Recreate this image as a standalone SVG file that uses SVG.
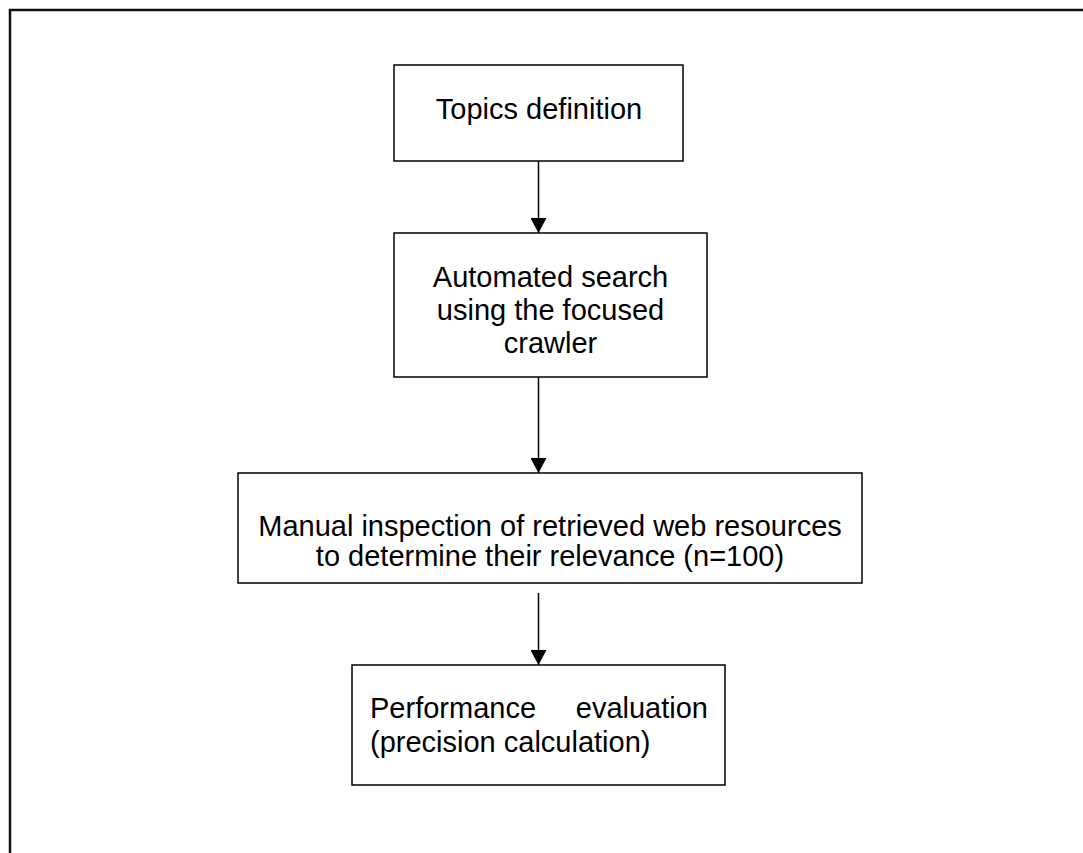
<svg xmlns="http://www.w3.org/2000/svg" width="1083" height="853" viewBox="0 0 1083 853">
  <style>
    .box { fill: #ffffff; stroke: #000000; stroke-width: 1.5; }
    .lbl { font-family: "Liberation Sans", Arial, sans-serif; font-size: 29px; fill: #000000; }
    .mid { text-anchor: middle; }
    .edge { stroke: #000000; stroke-width: 1.5; fill: none; marker-end: url(#head); }
    .frame { stroke: #111111; stroke-width: 2.5; fill: none; }
  </style>
  <defs>
    <marker id="head" markerUnits="userSpaceOnUse" markerWidth="16" markerHeight="16" refX="15" refY="8" orient="auto">
      <path d="M0,0 L15,8 L0,16 Z" fill="#000000"/>
    </marker>
  </defs>

  <rect width="1083" height="853" fill="#ffffff"/>

  <!-- page frame (top and left edges) -->
  <path class="frame" d="M10,853 L10,10 L1083,10"/>

  <g id="connectors">
    <line class="edge" x1="538.5" y1="161" x2="538.5" y2="233"/>
    <line class="edge" x1="538.5" y1="377" x2="538.5" y2="473"/>
    <line class="edge" x1="538.5" y1="593" x2="538.5" y2="665"/>
  </g>

  <g id="topics">
    <rect class="box" x="394" y="65" width="289" height="96"/>
    <text class="lbl mid" x="539" y="119">Topics definition</text>
  </g>

  <g id="search">
    <rect class="box" x="394" y="233" width="313" height="144"/>
    <text class="lbl mid" x="550.5" y="287">Automated search</text>
    <text class="lbl mid" x="550.5" y="320">using the focused</text>
    <text class="lbl mid" x="550.5" y="353">crawler</text>
  </g>

  <g id="inspection">
    <rect class="box" x="238" y="473" width="624" height="110"/>
    <text class="lbl mid" x="550" y="536">Manual inspection of retrieved web resources</text>
    <text class="lbl mid" x="550" y="566">to determine their relevance (n=100)</text>
  </g>

  <g id="evaluation">
    <rect class="box" x="352" y="665" width="373" height="120"/>
    <text class="lbl" x="370" y="718">Performance</text>
    <text class="lbl" x="708" y="718" text-anchor="end">evaluation</text>
    <text class="lbl" x="370" y="752">(precision calculation)</text>
  </g>
</svg>
